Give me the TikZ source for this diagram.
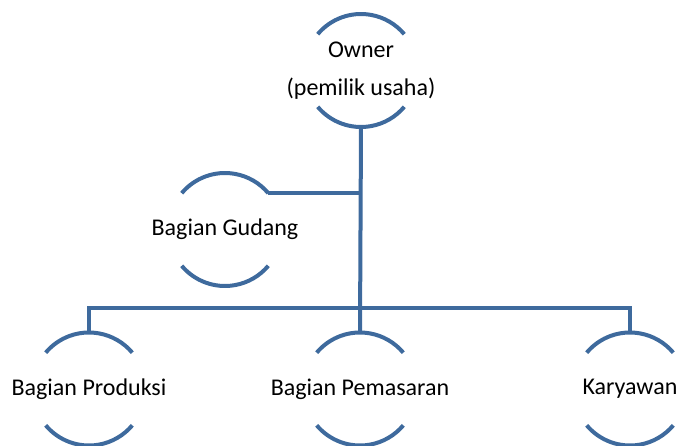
\documentclass[tikz,border=0pt]{standalone}
\usepackage{fontspec}
\setmainfont{Carlito}
\definecolor{birugaris}{RGB}{62,106,157}

\begin{document}
\begin{tikzpicture}[x=0.75pt,y=0.75pt,yscale=-1,xscale=1,
    garis/.style={draw=birugaris, line width=3pt},
    bulat/.style={circle, minimum size=84.75pt, inner sep=0pt, outer sep=0pt,
      label={[font=\fontsize{18}{28.5}\selectfont, align=center]center:#1}}]
      \useasboundingbox (0,0) rectangle (679,446);

      % Circle Nodes
      \node [bulat={Owner\\(pemilik usaha)}] (own) at (361,70.5) {};
      \node [bulat={Bagian Gudang}] (gud) at (225,229.5) {};
      \node [bulat={Bagian Produksi}] (prod) at (89,389) {};
      \node [bulat={Bagian Pemasaran}] (pem) at (360,389) {};
      \node [bulat={Karyawan}] (kar) at (630,389) {};

      % Arcs (top and bottom)
      \foreach \n in {own,gud,prod,pem,kar} {
        \draw [garis] (\n.140) arc [start angle=-140, end angle=-40, radius=56.5];
        \draw [garis] (\n.220) arc [start angle=140, end angle=40, radius=56.5];
      }

      % Connectors
      \coordinate (bus) at (360,308);
      \draw [garis] (own.south) -- (pem.north);
      \draw [garis] (gud.40) -- (gud.40 -| own.south);
      \draw [garis] (prod.north) |- (bus) -| (kar.north);
\end{tikzpicture}
\end{document}
